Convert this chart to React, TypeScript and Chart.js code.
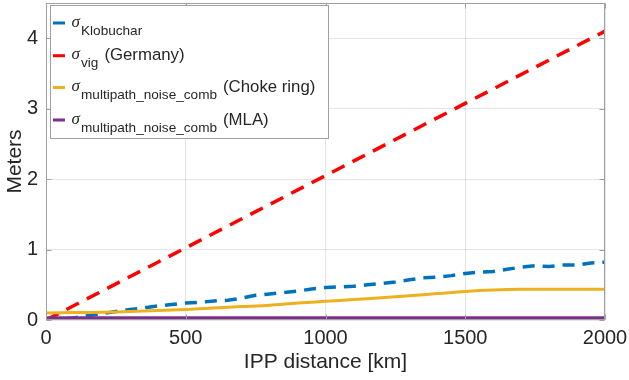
import React, { useEffect, useRef } from "react";
import { Chart, registerables } from "chart.js";

Chart.register(...registerables);

const FONT = "'Liberation Sans', Arial, Helvetica, sans-serif";
const TEXT = "#262626";

const xTicks = [0, 500, 1000, 1500, 2000];
const yTicks = [0, 1, 2, 3, 4];

const kloX = [0, 50, 100, 150, 200, 250, 300, 350, 400, 450, 500, 550, 600, 650, 700, 750, 800, 850, 900, 950, 1000, 1050, 1100, 1150, 1200, 1250, 1300, 1350, 1400, 1450, 1500, 1550, 1600, 1650, 1700, 1750, 1800, 1850, 1900, 1950, 2000];
const kloY = [0.0, 0.01, 0.03, 0.06, 0.09, 0.12, 0.15, 0.17, 0.2, 0.22, 0.24, 0.25, 0.27, 0.28, 0.31, 0.35, 0.37, 0.39, 0.41, 0.44, 0.46, 0.47, 0.48, 0.5, 0.52, 0.54, 0.57, 0.6, 0.61, 0.63, 0.66, 0.68, 0.69, 0.72, 0.75, 0.77, 0.76, 0.78, 0.78, 0.81, 0.82];

const vigX = [0, 2000];
const vigY = [0.0, 4.1];

const chokeX = [0, 100, 200, 300, 400, 500, 600, 700, 800, 900, 1000, 1100, 1200, 1300, 1400, 1500, 1600, 1700, 1800, 1900, 2000];
const chokeY = [0.1, 0.105, 0.11, 0.12, 0.135, 0.15, 0.17, 0.19, 0.21, 0.24, 0.265, 0.29, 0.315, 0.345, 0.375, 0.405, 0.425, 0.435, 0.435, 0.435, 0.435];

const mlaX = [0, 2000];
const mlaY = [0.03, 0.03];

const legendItems = [
  { color: "#0072BD", sub: "Klobuchar", text: "" },
  { color: "#FF0000", sub: "vig", text: "(Germany)" },
  { color: "#EDB120", sub: "multipath_noise_comb", text: "(Choke ring)" },
  { color: "#7E2F8E", sub: "multipath_noise_comb", text: "(MLA)" },
];

const pts = (xs: number[], ys: number[]) => xs.map((x, i) => ({ x, y: ys[i] }));

const framePlugin = {
  id: "matlabFrame",
  afterDatasetsDraw(chart: any) {
    const ctx = chart.ctx;
    const a = chart.chartArea;
    const xs = chart.scales.x;
    const ys = chart.scales.y;
    ctx.save();
    ctx.strokeStyle = "#a0a0a0";
    ctx.lineWidth = 1;
    const l = Math.round(a.left) + 0.5;
    const r = Math.round(a.right) - 0.5;
    const t = Math.round(a.top) + 0.5;
    const b = Math.round(a.bottom) - 0.5;
    ctx.strokeRect(l, t, r - l, b - t);
    ctx.beginPath();
    const tl = 5;
    xTicks.forEach((v) => {
      const px = Math.round(xs.getPixelForValue(v)) + 0.5;
      ctx.moveTo(px, b);
      ctx.lineTo(px, b - tl);
      ctx.moveTo(px, t);
      ctx.lineTo(px, t + tl);
    });
    yTicks.forEach((v) => {
      const py = Math.round(ys.getPixelForValue(v)) + 0.5;
      ctx.moveTo(l, py);
      ctx.lineTo(l + tl, py);
      ctx.moveTo(r, py);
      ctx.lineTo(r - tl, py);
    });
    ctx.stroke();
    ctx.restore();
  },
  afterDraw(chart: any) {
    const ctx = chart.ctx;
    ctx.save();
    const bx = 50, by = 5, bw = 278, bh = 133;
    ctx.fillStyle = "#ffffff";
    ctx.fillRect(bx, by, bw, bh);
    ctx.strokeStyle = "#a0a0a0";
    ctx.lineWidth = 1;
    ctx.strokeRect(bx + 0.5, by + 0.5, bw, bh);
    const rows = [23, 55.7, 87.5, 120];
    legendItems.forEach((it, i) => {
      const L = rows[i];
      ctx.strokeStyle = it.color;
      ctx.lineWidth = 3;
      ctx.beginPath();
      ctx.moveTo(53, L);
      ctx.lineTo(65, L);
      ctx.stroke();
      ctx.fillStyle = TEXT;
      ctx.textAlign = "left";
      ctx.textBaseline = "alphabetic";
      ctx.font = "italic 17px 'Liberation Serif', 'Times New Roman', serif";
      ctx.fillText("σ", 71.5, L + 3.5);
      ctx.font = "13.6px " + FONT;
      ctx.fillText(it.sub, 81, L + 11.5);
      const sw = ctx.measureText(it.sub).width;
      if (it.text) {
        ctx.font = "16.8px " + FONT;
        ctx.fillText(it.text, 81 + sw + 6, L + 4.5);
      }
    });
    ctx.restore();
  },
};

export default function App() {
  const ref = useRef<HTMLCanvasElement | null>(null);
  useEffect(() => {
    document.body.style.margin = "0";
    const canvas = ref.current;
    if (!canvas) return;
    const chart = new Chart(canvas, {
      type: "line",
      data: {
        datasets: [
          {
            label: "Klobuchar",
            data: pts(kloX, kloY),
            borderColor: "#0072BD",
            borderWidth: 3.5,
            borderDash: [12, 8],
            pointRadius: 0,
            tension: 0,
            order: 3,
          },
          {
            label: "vig",
            data: pts(vigX, vigY),
            borderColor: "#FF0000",
            borderWidth: 3.5,
            borderDash: [14, 9],
            pointRadius: 0,
            order: 2,
          },
          {
            label: "choke",
            data: pts(chokeX, chokeY),
            borderColor: "#EDB120",
            borderWidth: 3,
            pointRadius: 0,
            tension: 0.3,
            order: 1,
          },
          {
            label: "mla",
            data: pts(mlaX, mlaY),
            borderColor: "#7E2F8E",
            borderWidth: 3.5,
            pointRadius: 0,
            order: 0,
          },
        ],
      },
      options: {
        animation: false,
        responsive: false,
        maintainAspectRatio: false,
        layout: { padding: { left: 0, top: 3, right: 24, bottom: 0 } },
        plugins: { legend: { display: false }, tooltip: { enabled: false } },
        scales: {
          x: {
            type: "linear",
            min: 0,
            max: 2000,
            afterBuildTicks: (s: any) => {
              s.ticks = xTicks.map((v) => ({ value: v }));
            },
            afterFit: (s: any) => {
              s.height = 60;
              s.paddingLeft = 0;
              s.paddingRight = 0;
            },
            ticks: {
              font: { family: FONT, size: 20 },
              color: TEXT,
              padding: 6,
              maxRotation: 0,
              callback: (v: any) => String(v),
            },
            grid: { color: "rgba(38,38,38,0.12)", drawTicks: false },
            border: { display: false },
            title: {
              display: true,
              text: "IPP distance [km]",
              font: { family: FONT, size: 21 },
              color: TEXT,
              padding: { top: 0, bottom: 5 },
            },
          },
          y: {
            type: "linear",
            min: 0,
            max: 4.5,
            afterBuildTicks: (s: any) => {
              s.ticks = yTicks.map((v) => ({ value: v }));
            },
            afterFit: (s: any) => {
              s.width = 46;
              s.paddingTop = 0;
              s.paddingBottom = 0;
            },
            ticks: {
              font: { family: FONT, size: 20 },
              color: TEXT,
              padding: 8,
              callback: (v: any) => String(v),
            },
            grid: { color: "rgba(38,38,38,0.12)", drawTicks: false },
            border: { display: false },
            title: {
              display: true,
              text: "Meters",
              font: { family: FONT, size: 21 },
              color: TEXT,
              padding: { top: 3, bottom: 0 },
            },
          },
        },
      },
      plugins: [framePlugin],
    });
    return () => chart.destroy();
  }, []);
  return (
    <div style={{ width: 629, height: 380 }}>
      <canvas ref={ref} width={629} height={380} style={{ display: "block" }} />
    </div>
  );
}
